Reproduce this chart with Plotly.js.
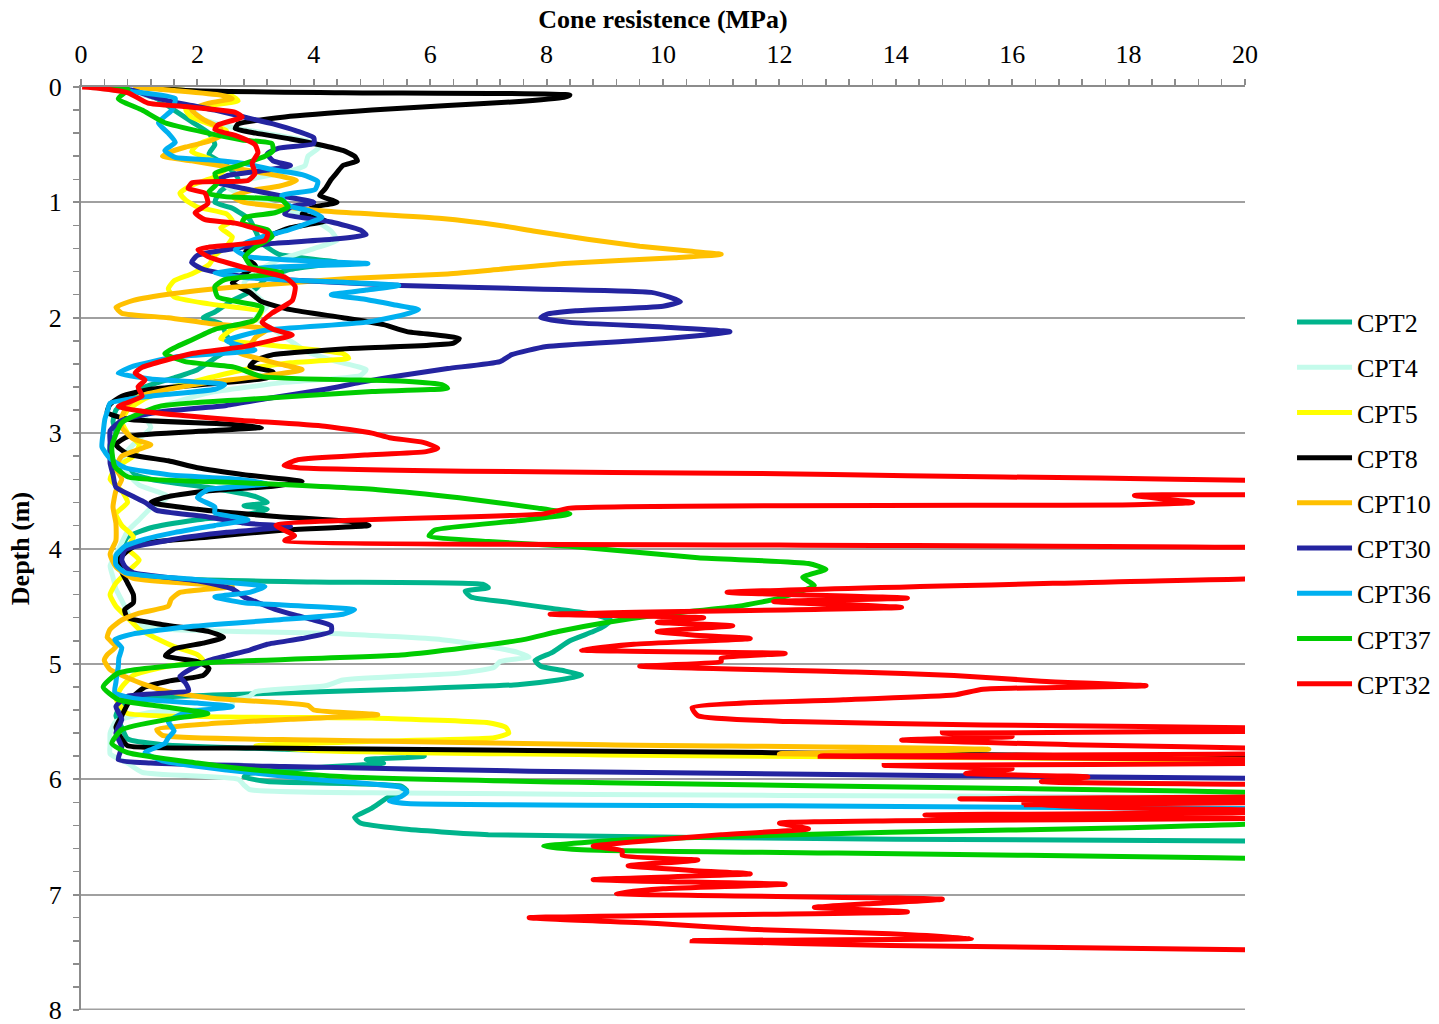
<!DOCTYPE html>
<html>
<head>
<meta charset="utf-8">
<script src="https://cdn.plot.ly/plotly-3.0.1.min.js"></script>
<style>html,body{margin:0;padding:0;background:#fff;}#chart{width:1439px;height:1024px;}</style>
</head>
<body>
<div id="chart"></div>
<script>
// Cone resistance q (MPa) against depth d (m), per CPT sounding
const names = ["CPT2","CPT4","CPT5","CPT8","CPT10","CPT30","CPT36","CPT37","CPT32"];
const colors = ["#00B48C","#C4FBEB","#FFFF00","#000000","#FFC000","#2424A0","#00B0F0","#00CC00","#FF0000"];

const cpt2_d = [0,0.03,0.1,0.2,0.3,0.4,0.5,0.58,0.68,0.8,0.9,1.0,1.05,1.15,1.25,1.35,1.45,1.52,1.58,1.65,1.75,1.85,1.95,2.0,2.05,2.15,2.25,2.35,2.45,2.52,2.6,2.7,2.8,2.9,3.0,3.1,3.2,3.3,3.4,3.48,3.55,3.6,3.63,3.66,3.7,3.75,3.82,3.9,4.0,4.1,4.2,4.26,4.29,4.31,4.34,4.37,4.42,4.47,4.52,4.57,4.62,4.67,4.72,4.8,4.9,4.97,5.02,5.06,5.1,5.14,5.18,5.22,5.26,5.3,5.35,5.45,5.55,5.65,5.7,5.74,5.77,5.8,5.83,5.86,5.9,5.95,5.98,6.02,6.06,6.1,6.15,6.25,6.33,6.38,6.43,6.48,6.52,6.54];
const cpt2_q = [0.2,0.8,1.3,1.6,1.9,2.2,2.3,2.2,2.5,2.7,2.4,2.3,2.6,2.9,3.0,3.1,3.4,4.4,3.6,3.2,3.0,2.6,2.3,2.1,2.4,2.5,2.6,2.3,2.0,1.6,1.1,0.8,0.6,0.55,0.6,0.5,0.5,0.6,1.2,2.3,3.0,3.2,2.8,3.2,2.9,2.0,1.2,0.8,0.7,0.65,0.7,1.5,4.0,6.9,7.0,6.6,6.7,7.4,8.1,8.8,9.1,9.0,8.8,8.4,8.1,7.8,7.9,8.3,8.6,8.2,7.5,5.5,3.0,1.0,0.7,0.6,0.7,0.8,1.4,3.5,5.6,5.9,4.9,5.2,4.0,2.9,2.8,3.2,5.5,5.6,5.3,5.0,4.7,4.8,5.5,7.0,14,22];

const cpt4_d = [0,0.05,0.12,0.2,0.28,0.35,0.42,0.47,0.52,0.6,0.68,0.74,0.8,0.86,0.95,1.05,1.15,1.25,1.33,1.4,1.5,1.6,1.7,1.8,1.9,2.0,2.1,2.2,2.3,2.38,2.45,2.5,2.56,2.65,2.75,2.85,2.95,3.05,3.15,3.25,3.35,3.45,3.55,3.65,3.75,3.85,3.95,4.05,4.15,4.25,4.35,4.45,4.55,4.65,4.7,4.74,4.79,4.85,4.9,4.94,4.98,5.03,5.08,5.14,5.19,5.24,5.28,5.32,5.37,5.42,5.5,5.6,5.7,5.78,5.86,5.94,6.0,6.05,6.09,6.12,6.14,6.16];
const cpt4_q = [0.1,0.9,1.5,1.9,2.1,2.6,3.4,3.9,4.1,3.9,3.85,3.5,2.9,2.5,2.8,3.5,4.0,4.3,4.4,4.0,3.4,3.0,2.8,3.0,3.2,3.0,3.3,3.6,3.9,4.4,4.9,4.8,3.5,2.2,1.5,1.1,1.2,1.0,0.8,0.7,0.8,1.0,1.5,1.2,1.0,0.8,0.7,0.6,0.5,0.55,0.6,0.7,0.8,0.9,1.5,4.5,6.2,7.0,7.5,7.7,7.2,7.1,6.5,4.5,4.2,3.0,2.9,2.6,2.6,1.2,0.6,0.5,0.5,0.5,0.8,1.05,2.7,2.8,2.9,5.5,12,22];

const cpt5_d = [0,0.03,0.08,0.12,0.16,0.2,0.26,0.32,0.38,0.44,0.5,0.56,0.62,0.7,0.78,0.85,0.92,0.98,1.04,1.1,1.16,1.22,1.3,1.38,1.46,1.54,1.62,1.68,1.75,1.82,1.88,1.95,2.02,2.1,2.18,2.25,2.31,2.35,2.39,2.45,2.52,2.6,2.7,2.8,2.9,3.0,3.1,3.2,3.3,3.4,3.5,3.6,3.7,3.8,3.9,4.0,4.1,4.2,4.3,4.4,4.5,4.6,4.7,4.78,4.85,4.92,4.97,5.02,5.1,5.2,5.3,5.38,5.43,5.47,5.51,5.55,5.6,5.64,5.67,5.71,5.75,5.79,5.82,5.85];
const cpt5_q = [0.9,1.8,2.6,2.7,2.2,1.8,1.9,2.2,2.5,2.3,2.0,1.9,2.2,2.5,2.3,1.9,1.7,1.8,2.0,2.5,2.6,2.4,2.6,2.5,2.3,2.2,1.9,1.6,1.5,1.6,2.2,3.1,3.0,2.6,2.4,3.5,4.5,4.6,3.6,2.8,2.2,1.6,1.1,0.8,0.7,0.8,1.0,0.9,0.6,0.5,0.7,0.8,0.6,0.7,0.9,0.8,1.0,0.8,0.6,0.5,0.6,0.8,1.0,1.3,1.6,2.0,2.1,1.5,0.9,0.7,0.6,0.7,0.8,5.0,7.0,7.3,7.35,7.1,5.0,3.0,4.0,9.0,17,22];

const cpt8_d = [0,0.03,0.05,0.07,0.09,0.13,0.16,0.2,0.26,0.32,0.36,0.4,0.45,0.5,0.55,0.6,0.64,0.68,0.74,0.8,0.88,0.94,1.0,1.04,1.1,1.16,1.22,1.3,1.38,1.46,1.55,1.62,1.7,1.78,1.86,1.93,2.0,2.06,2.12,2.18,2.22,2.27,2.32,2.37,2.42,2.47,2.52,2.57,2.62,2.68,2.75,2.82,2.88,2.92,2.95,2.98,3.03,3.1,3.18,3.24,3.3,3.36,3.42,3.46,3.5,3.55,3.6,3.66,3.72,3.77,3.8,3.84,3.9,3.96,4.02,4.1,4.2,4.3,4.4,4.47,4.53,4.6,4.66,4.72,4.77,4.82,4.87,4.93,4.98,5.04,5.1,5.15,5.2,5.28,5.35,5.45,5.55,5.65,5.71,5.73,5.75,5.79,5.83];
const cpt8_q = [1.0,1.8,4.5,8.4,8.3,7.4,6.3,5.0,3.5,2.7,2.65,3.0,3.6,4.1,4.5,4.7,4.75,4.5,4.4,4.3,4.2,4.1,4.4,4.0,3.8,4.2,3.6,3.2,2.9,2.8,3.0,2.8,2.6,2.9,3.1,3.6,4.5,5.2,5.6,6.5,6.4,4.5,3.3,3.0,2.9,3.3,3.2,2.3,1.2,0.7,0.5,0.45,0.8,2.5,3.1,2.2,0.8,0.6,0.8,1.5,2.0,2.8,3.8,3.3,2.2,1.5,1.2,2.0,3.3,4.7,4.95,3.5,2.2,1.0,0.8,0.65,0.7,0.8,0.9,0.9,0.75,0.8,1.4,2.2,2.45,2.1,1.6,1.45,2.0,2.2,2.1,1.5,1.1,0.9,0.8,0.7,0.6,0.7,0.8,3.0,7.7,16,22];

const cpt10_d = [0,0.03,0.07,0.1,0.14,0.2,0.28,0.36,0.42,0.47,0.52,0.57,0.6,0.64,0.7,0.76,0.81,0.86,0.9,0.95,1.0,1.04,1.08,1.14,1.2,1.25,1.32,1.38,1.42,1.45,1.48,1.53,1.58,1.62,1.66,1.7,1.74,1.79,1.85,1.91,1.96,2.0,2.05,2.1,2.17,2.24,2.3,2.36,2.4,2.45,2.5,2.56,2.62,2.68,2.76,2.86,2.95,3.05,3.1,3.14,3.2,3.3,3.4,3.5,3.64,3.78,3.93,4.05,4.16,4.26,4.33,4.38,4.44,4.5,4.56,4.62,4.7,4.77,4.85,4.92,4.97,5.05,5.12,5.18,5.24,5.3,5.36,5.4,5.44,5.48,5.52,5.57,5.62,5.66,5.7,5.74,5.78,5.82,5.86];
const cpt10_q = [0.9,1.6,2.4,2.6,2.2,1.9,2.1,2.4,2.4,2.2,1.8,1.5,1.4,1.9,2.6,3.3,3.7,3.4,2.9,2.6,2.8,3.5,4.3,6.2,7.2,7.8,8.7,9.6,10.4,11.0,10.2,8.3,7.2,6.3,4.6,3.5,2.5,1.6,0.9,0.6,0.7,1.5,2.2,3.2,3.0,2.9,2.7,3.1,3.4,3.8,3.2,2.2,1.5,1.0,0.8,0.7,0.7,0.9,1.2,1.0,0.7,0.6,0.7,0.6,0.55,0.6,0.6,0.5,0.6,0.9,2.6,1.7,1.55,1.5,1.0,0.7,0.5,0.45,0.6,0.45,0.4,0.5,0.8,1.1,1.5,2.3,3.9,4.0,5.1,3.6,2.2,1.3,1.4,4.0,9.0,15.6,12.0,19,22];

const cpt30_d = [0,0.03,0.08,0.12,0.16,0.2,0.26,0.32,0.38,0.44,0.49,0.53,0.58,0.64,0.68,0.72,0.77,0.82,0.88,0.94,1.0,1.04,1.1,1.17,1.24,1.28,1.32,1.36,1.41,1.46,1.52,1.58,1.63,1.67,1.72,1.75,1.78,1.82,1.86,1.9,1.94,1.97,2.0,2.04,2.08,2.12,2.16,2.2,2.25,2.32,2.38,2.44,2.5,2.56,2.62,2.7,2.76,2.82,2.89,2.98,3.08,3.18,3.26,3.36,3.47,3.55,3.6,3.67,3.72,3.78,3.81,3.86,3.92,4.01,4.1,4.16,4.21,4.28,4.35,4.42,4.48,4.53,4.58,4.62,4.67,4.72,4.78,4.83,4.88,4.93,4.97,5.04,5.11,5.17,5.23,5.28,5.37,5.48,5.6,5.72,5.83,5.86,5.89,5.93,5.97,6.0];
const cpt30_q = [0.3,0.9,1.2,1.5,1.9,2.3,2.8,3.3,3.7,4.0,4.0,3.4,3.2,3.3,3.6,3.2,2.5,2.3,2.8,3.4,4.0,3.6,3.5,4.3,4.8,4.9,4.3,3.2,2.5,2.0,1.9,2.1,2.6,3.5,5.5,7.8,9.8,10.1,10.3,10.0,8.5,8.0,7.9,8.4,10.0,11.15,10.5,9.5,8.0,7.4,7.2,6.3,5.5,4.8,4.2,3.2,2.5,1.3,0.7,0.5,0.5,0.5,0.5,0.55,0.6,0.9,1.1,1.3,2.1,2.8,3.6,2.5,1.6,0.76,0.7,0.76,0.9,2.0,2.6,2.8,3.1,3.35,3.7,4.0,4.3,4.3,3.8,3.2,2.9,2.5,2.2,1.9,1.7,1.8,1.85,0.8,0.6,0.7,0.6,0.7,0.64,1.2,3.5,7.7,15,22];

const cpt36_d = [0,0.04,0.1,0.2,0.31,0.4,0.48,0.55,0.61,0.63,0.66,0.72,0.76,0.82,0.89,0.94,1.0,1.04,1.07,1.13,1.18,1.24,1.3,1.36,1.41,1.47,1.51,1.53,1.56,1.61,1.65,1.68,1.72,1.76,1.8,1.84,1.89,1.93,1.98,2.04,2.11,2.2,2.28,2.34,2.42,2.48,2.53,2.58,2.62,2.68,2.74,2.8,2.88,3.0,3.12,3.22,3.3,3.36,3.4,3.44,3.49,3.56,3.64,3.69,3.75,3.8,3.86,3.92,3.98,4.06,4.14,4.21,4.27,4.33,4.38,4.42,4.47,4.53,4.57,4.62,4.68,4.74,4.79,4.86,4.95,5.03,5.08,5.16,5.25,5.3,5.34,5.37,5.42,5.5,5.58,5.64,5.69,5.77,5.84,5.92,6.0,6.07,6.11,6.15,6.19,6.21,6.23,6.26];
const cpt36_q = [0.24,0.88,1.62,1.56,1.33,1.5,1.62,1.44,1.62,2.18,2.77,3.33,3.8,4.07,4.02,3.45,3.5,3.63,3.9,4.14,3.9,3.56,3.11,2.8,2.65,2.87,4.0,4.93,3.33,2.3,2.77,3.9,5.46,4.9,4.3,4.88,5.4,5.8,5.5,4.88,3.14,2.5,2.99,1.62,0.9,0.64,1.2,2.47,2.3,1.2,0.5,0.46,0.41,0.38,0.36,0.5,0.76,1.5,2.7,3.21,2.18,2.0,2.3,2.3,2.87,2.3,1.62,1.1,0.76,0.6,0.6,0.76,2.0,3.16,2.9,2.3,2.8,4.7,4.5,3.33,1.8,0.9,0.58,0.7,0.65,0.64,0.62,0.6,0.58,0.9,2.0,2.6,1.8,1.5,1.6,1.5,1.44,1.1,1.4,2.5,4.0,5.5,5.6,5.5,5.3,5.6,12,22];

const cpt37_d = [0,0.02,0.1,0.2,0.31,0.4,0.46,0.49,0.55,0.6,0.69,0.75,0.83,0.92,0.95,0.98,1.04,1.09,1.13,1.18,1.24,1.3,1.39,1.47,1.56,1.61,1.67,1.73,1.82,1.91,2.02,2.1,2.19,2.31,2.38,2.43,2.51,2.55,2.58,2.61,2.64,2.71,2.77,2.91,3.12,3.29,3.38,3.43,3.49,3.56,3.65,3.7,3.76,3.84,3.89,3.94,3.98,4.08,4.13,4.18,4.25,4.32,4.43,4.5,4.57,4.64,4.72,4.79,4.86,4.92,4.99,5.08,5.2,5.31,5.37,5.43,5.48,5.57,5.69,5.77,5.86,5.92,5.98,6.03,6.08,6.13,6.2,6.37,6.42,6.46,6.52,6.58,6.61,6.64,6.68,6.72];
const cpt37_q = [0.3,0.81,0.64,1.05,1.44,2.18,2.77,3.28,3.3,3.16,2.65,2.3,2.35,2.18,2.47,3.45,3.56,3.33,2.82,2.77,3.21,3.28,2.99,2.82,2.94,3.45,2.47,2.3,2.35,3.11,2.99,2.3,1.91,1.44,1.79,2.65,3.11,5.57,6.2,6.3,5.0,2.77,1.33,0.7,0.53,0.58,0.81,2.77,5.1,6.5,7.85,8.4,7.5,6.08,5.98,7.0,8.4,10.6,12.5,12.8,12.4,12.6,12.0,11.3,10.0,9.05,8.2,7.6,6.6,5.57,2.18,0.64,0.38,0.64,1.39,2.18,1.5,0.7,0.53,0.8,2.0,3.0,4.6,9,16,22,25,21,18,13.9,9.5,7.95,8.6,13,19.5,24];

const cpt32_d = [0,0.01,0.05,0.14,0.17,0.22,0.26,0.33,0.37,0.42,0.5,0.57,0.66,0.75,0.81,0.83,0.88,0.92,1.01,1.09,1.15,1.18,1.27,1.33,1.39,1.41,1.47,1.56,1.65,1.73,1.85,1.96,2.04,2.1,2.15,2.19,2.25,2.31,2.43,2.48,2.54,2.6,2.68,2.77,2.81,2.85,2.89,2.94,3.0,3.04,3.08,3.13,3.16,3.19,3.23,3.28,3.3,3.33,3.35,3.37,3.39,3.41,3.47,3.53,3.54,3.6,3.62,3.65,3.7,3.8,3.89,3.93,3.97,4.0,4.12,4.25,4.29,4.38,4.43,4.46,4.51,4.57,4.6,4.64,4.67,4.72,4.75,4.78,4.83,4.88,4.91,4.95,4.98,5.02,5.07,5.1,5.15,5.19,5.22,5.27,5.31,5.38,5.45,5.5,5.53,5.56,5.58,5.6,5.63,5.66,5.7,5.74,5.77,5.8,5.83,5.86,5.88,5.91,5.95,5.98,6.02,6.06,6.12,6.15,6.17,6.2,6.22,6.25,6.28,6.31,6.32,6.34,6.36,6.38,6.43,6.48,6.53,6.58,6.62,6.66,6.7,6.75,6.79,6.82,6.87,6.91,6.95,6.99,7.04,7.08,7.11,7.15,7.2,7.25,7.3,7.34,7.38,7.4,7.44,7.48,7.5];
const cpt32_q = [0.02,0.3,0.81,1.15,1.79,2.65,2.77,2.35,2.3,2.65,2.99,3.04,2.94,2.99,2.87,1.91,1.84,2.13,2.18,1.96,2.13,2.65,3.21,3.16,2.18,2.01,2.18,2.77,3.51,3.68,3.63,3.28,3.11,3.3,3.63,3.33,2.8,1.91,1.05,0.93,1.1,0.98,1.05,0.64,1.05,1.8,2.77,4.19,5.0,5.3,5.88,6.13,5.93,4.88,3.73,3.49,3.73,6.62,11.67,14.2,17.5,20.1,23,21,18.1,19.1,18.1,8.4,7.95,3.35,3.67,3.5,12,21,24,21,17.7,11.1,14.2,11.9,14.1,8.06,10.7,9.9,11.2,9.9,10.5,11.5,9.5,8.6,12.1,11.0,11.0,9.6,13.3,15.0,16.5,18.3,15.5,15.0,13.1,10.5,10.6,12.2,15.5,21,22,14.8,16,14.1,17,21,22,12.7,20,21,13.8,16.0,15.2,17.3,16.5,22,23,21,15.1,21,16.2,18,22,14.5,15.3,20,14,12.0,12.5,11.0,9.8,8.8,9.3,9.3,10.6,9.4,10.5,11.5,8.8,12.1,10.0,9.2,14.8,13.5,12.6,14.2,7.7,9.9,11.5,13.9,15.3,10.5,13.9,20.5,23];

const depths = [cpt2_d,cpt4_d,cpt5_d,cpt8_d,cpt10_d,cpt30_d,cpt36_d,cpt37_d,cpt32_d];
const values = [cpt2_q,cpt4_q,cpt5_q,cpt8_q,cpt10_q,cpt30_q,cpt36_q,cpt37_q,cpt32_q];

const serif = "Liberation Serif, Times New Roman, serif";
const traces = names.map((n,i) => ({
  type: "scatter", mode: "lines", name: n,
  x: values[i], y: depths[i],
  line: {color: colors[i], width: 5, shape: "spline", smoothing: 0.5},
  legendgroup: n, hoverinfo: "skip"
}));

const layout = {
  width: 1439, height: 1024,
  margin: {l: 81, r: 194, t: 87, b: 14, pad: 0, autoexpand: false},
  paper_bgcolor: "#ffffff", plot_bgcolor: "#ffffff",
  font: {family: serif, size: 26, color: "#000"},
  showlegend: true,
  legend: {x: 1.0404, xanchor: "left", y: 0.7707, yanchor: "top",
    font: {family: serif, size: 26, color: "#000"},
    tracegroupgap: 8.4, itemwidth: 55, bgcolor: "rgba(0,0,0,0)", traceorder: "grouped"},
  xaxis: {
    side: "top", range: [0, 20], dtick: 2, tick0: 0,
    showline: true, linecolor: "#8c8c8c", linewidth: 2,
    ticks: "outside", ticklen: 6, tickwidth: 2, tickcolor: "#8c8c8c",
    minor: {dtick: 0.4, ticks: "outside", ticklen: 6, tickwidth: 1.5, tickcolor: "#8c8c8c", showgrid: false},
    showgrid: false, zeroline: false, ticklabelstandoff: 6, ticklabeloverflow: "allow",
    tickfont: {family: serif, size: 26, color: "#000"},
    title: {text: "<b>Cone resistence (MPa)</b>", font: {family: serif, size: 26, color: "#000"}, standoff: 3}
  },
  yaxis: {
    range: [8, 0], dtick: 1, tick0: 0,
    showline: true, linecolor: "#8c8c8c", linewidth: 2,
    ticks: "outside", ticklen: 6, tickwidth: 2, tickcolor: "#8c8c8c",
    minor: {dtick: 0.2, ticks: "outside", ticklen: 6, tickwidth: 1.5, tickcolor: "#8c8c8c", showgrid: false},
    showgrid: true, gridcolor: "#a0a0a0", gridwidth: 2, zeroline: false, ticklabelstandoff: 6, ticklabeloverflow: "allow",
    tickfont: {family: serif, size: 26, color: "#000"},
    title: {text: "<b>Depth (m)</b>", font: {family: serif, size: 26, color: "#000"}, standoff: 12}
  },
  shapes: [{type: "line", xref: "paper", yref: "y", x0: 0, x1: 1, y0: 7.995, y1: 7.995,
            line: {color: "#a0a0a0", width: 2}, layer: "below"}]
};

Plotly.newPlot("chart", traces, layout, {staticPlot: true, displayModeBar: false});
</script>
</body>
</html>
